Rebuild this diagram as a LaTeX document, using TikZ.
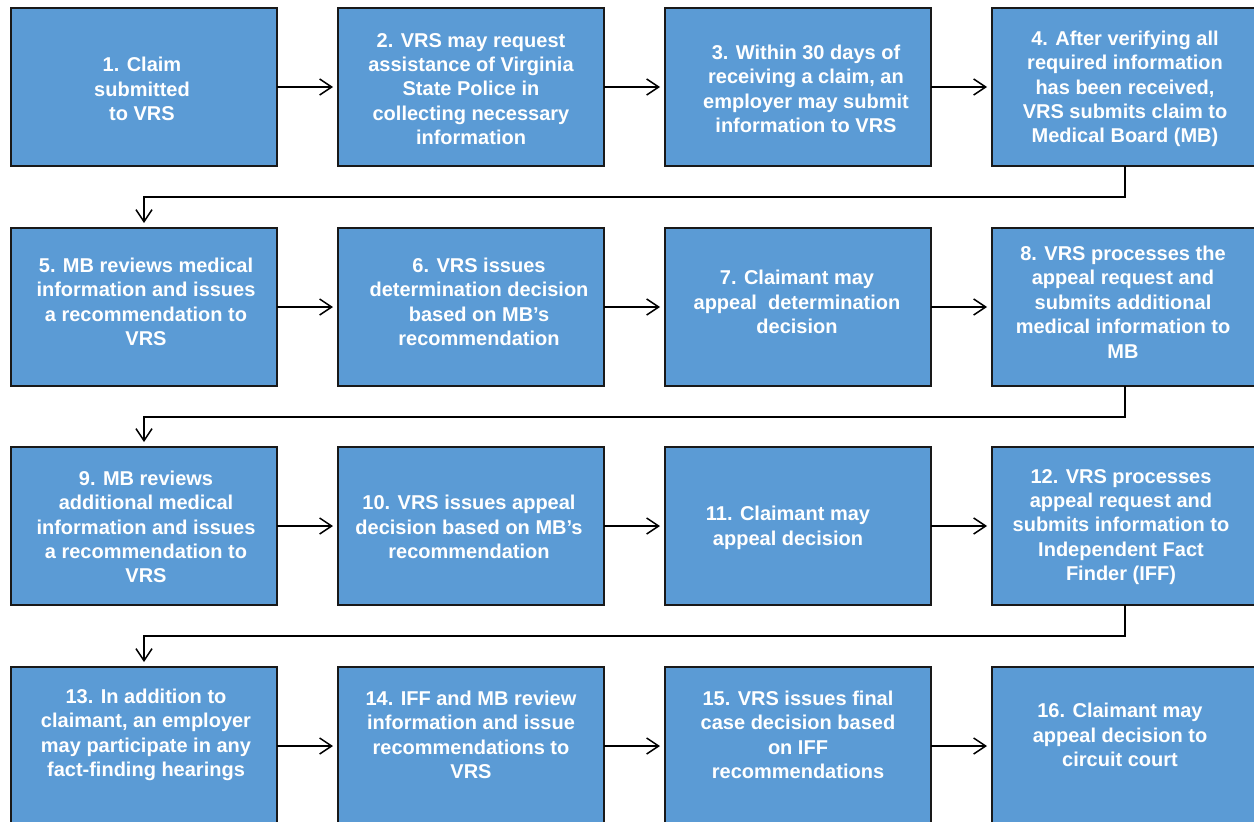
\documentclass[tikz,border=0pt]{standalone}
\usepackage{fontspec}
\setmainfont{Liberation Sans}
\usetikzlibrary{arrows.meta,calc}
\definecolor{boxblue}{HTML}{5B9BD5}
\begin{document}
\begin{tikzpicture}[x=1pt,y=-1pt,
  stepbox/.style={draw=black!90, line width=1.3pt, fill=boxblue, minimum width=266pt, minimum height=158pt, anchor=north west, inner sep=0pt, outer sep=0pt},
  txt/.style={text=white, font=\fontsize{20}{24.4}\selectfont\bfseries, align=center, inner sep=0pt},
  arr/.style={line width=1.5pt, -{Straight Barb[length=12pt,width=16pt,line width=1.5pt]}}
]
\clip (0,0) rectangle (1254,822);
% boxes
\node[stepbox] (b1) at (11,8) {};
\node[stepbox] (b2) at (338,8) {};
\node[stepbox] (b3) at (665,8) {};
\node[stepbox] (b4) at (992,8) {};
\node[stepbox] (b5) at (11,228) {};
\node[stepbox] (b6) at (338,228) {};
\node[stepbox] (b7) at (665,228) {};
\node[stepbox] (b8) at (992,228) {};
\node[stepbox] (b9) at (11,447) {};
\node[stepbox] (b10) at (338,447) {};
\node[stepbox] (b11) at (665,447) {};
\node[stepbox] (b12) at (992,447) {};
\node[stepbox] (b13) at (11,667) {};
\node[stepbox] (b14) at (338,667) {};
\node[stepbox] (b15) at (665,667) {};
\node[stepbox] (b16) at (992,667) {};
% texts
\node[txt] (t1) at (142,89) {1. Claim\\submitted\\to VRS};
\node[txt] (t2) at (471,89) {2. VRS may request\\assistance of Virginia\\State Police in\\collecting necessary\\information};
\node[txt] (t3) at (806,89) {3. Within 30 days of\\receiving a claim, an\\employer may submit\\information to VRS};
\node[txt] (t4) at (1125,89) {4. After verifying all\\required information\\has been received,\\VRS submits claim to\\Medical Board (MB)};
\node[txt] (t5) at (146,302) {5. MB reviews medical\\information and issues\\a recommendation to\\VRS};
\node[txt] (t6) at (479,302) {6. VRS issues\\determination decision\\based on MB’s\\recommendation};
\node[txt] (t7) at (797,302) {7. Claimant may\\appeal\ \ determination\\decision};
\node[txt] (t8) at (1123,302) {8. VRS processes the\\appeal request and\\submits additional\\medical information to\\MB};
\node[txt] (t9) at (146,527) {9. MB reviews\\additional medical\\information and issues\\a recommendation to\\VRS};
\node[txt] (t10) at (469,527) {10. VRS issues appeal\\decision based on MB’s\\recommendation};
\node[txt] (t11) at (788,528) {11. Claimant may\\appeal decision};
\node[txt] (t12) at (1121,527) {12. VRS processes\\appeal request and\\submits information to\\Independent Fact\\Finder (IFF)};
\node[txt] (t13) at (146,735) {13. In addition to\\claimant, an employer\\may participate in any\\fact-finding hearings};
\node[txt] (t14) at (471,735) {14. IFF and MB review\\information and issue\\recommendations to\\VRS};
\node[txt] (t15) at (798,735) {15. VRS issues final\\case decision based\\on IFF\\recommendations};
\node[txt] (t16) at (1120,735) {16. Claimant may\\appeal decision to\\circuit court};
% row turn points
\coordinate (m1) at (0,197);
\coordinate (m2) at (0,417);
\coordinate (m3) at (0,636);
% horizontal arrows
\draw[arr] (b1.east) -- ([xshift=-5pt]b2.west);
\draw[arr] (b2.east) -- ([xshift=-5pt]b3.west);
\draw[arr] (b3.east) -- ([xshift=-5pt]b4.west);
\draw[arr] (b5.east) -- ([xshift=-5pt]b6.west);
\draw[arr] (b6.east) -- ([xshift=-5pt]b7.west);
\draw[arr] (b7.east) -- ([xshift=-5pt]b8.west);
\draw[arr] (b9.east) -- ([xshift=-5pt]b10.west);
\draw[arr] (b10.east) -- ([xshift=-5pt]b11.west);
\draw[arr] (b11.east) -- ([xshift=-5pt]b12.west);
\draw[arr] (b13.east) -- ([xshift=-5pt]b14.west);
\draw[arr] (b14.east) -- ([xshift=-5pt]b15.west);
\draw[arr] (b15.east) -- ([xshift=-5pt]b16.west);
% row-to-row connectors
\draw[arr] (b4.south) -- (b4.south |- m1) -| ([yshift=5pt]b5.north);
\draw[arr] (b8.south) -- (b8.south |- m2) -| ([yshift=5pt]b9.north);
\draw[arr] (b12.south) -- (b12.south |- m3) -| ([yshift=5pt]b13.north);
\end{tikzpicture}
\end{document}
